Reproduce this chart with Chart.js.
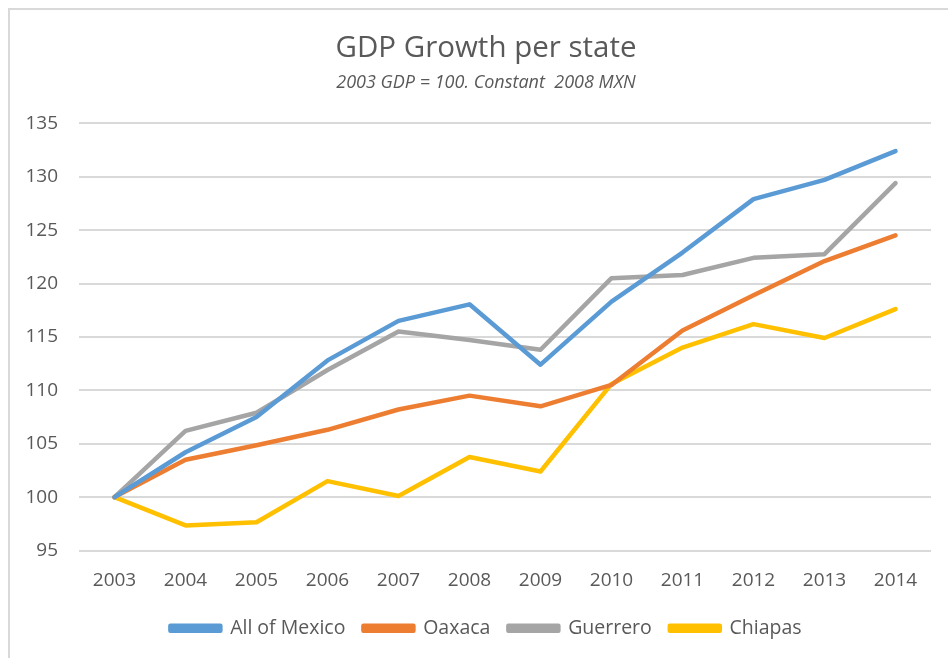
<!DOCTYPE html>
<html>
<head>
<meta charset="utf-8">
<script src="https://cdn.jsdelivr.net/npm/chart.js@4.4.0/dist/chart.umd.min.js"></script>
<style>
  body { margin: 0; background: #fff; overflow: hidden; }
  #frame {
    position: absolute; left: 8px; top: 8px; width: 960px; height: 680px;
    border: 2px solid #d9d9d9; box-sizing: border-box;
  }
  #wrap { position: absolute; left: 0; top: 0; width: 948px; height: 658px; }
</style>
</head>
<body>
<div id="frame"></div>
<div id="wrap"><canvas id="chart" width="948" height="658"></canvas></div>
<script>
  const years = ["2003", "2004", "2005", "2006", "2007", "2008", "2009", "2010", "2011", "2012", "2013", "2014"];
  const allMexico = [100, 104.2, 107.5, 112.8, 116.5, 118.05, 112.4, 118.3, 122.9, 127.9, 129.7, 132.4];
  const oaxaca = [100, 103.5, 104.85, 106.3, 108.2, 109.5, 108.5, 110.5, 115.6, 118.9, 122.1, 124.5];
  const guerrero = [100, 106.2, 107.9, 111.9, 115.5, 114.7, 113.8, 120.5, 120.8, 122.4, 122.75, 129.4];
  const chiapas = [100, 97.35, 97.65, 101.5, 100.1, 103.75, 102.4, 110.6, 114.0, 116.2, 114.9, 117.6];

  const font = "'Open Sans', 'DejaVu Sans', sans-serif";
  const textColor = "#595959";

  function series(label, data, color) {
    return {
      label: label,
      data: data,
      borderColor: color,
      backgroundColor: color,
      borderWidth: 4.5,
      borderCapStyle: "round",
      borderJoinStyle: "round",
      pointRadius: 0,
      pointHoverRadius: 0,
      tension: 0,
      fill: false
    };
  }

  // title, subtitle and legend are centred a bit right of the canvas centre in the original
  const shiftBlocks = {
    id: "shiftBlocks",
    afterLayout(chart) {
      chart.boxes.forEach(function (box) {
        if (!(box instanceof Chart.Scale)) box.left = 41;
      });
    }
  };

  const ctx = document.getElementById("chart").getContext("2d");
  window.myChart = new Chart(ctx, {
    type: "line",
    data: {
      labels: years,
      datasets: [
        series("All of Mexico", allMexico, "#5B9BD5"),
        series("Oaxaca", oaxaca, "#ED7D31"),
        series("Guerrero", guerrero, "#A5A5A5"),
        series("Chiapas", chiapas, "#FFC000")
      ]
    },
    plugins: [shiftBlocks],
    options: {
      responsive: false,
      animation: false,
      layout: {
        padding: { left: 0, right: 17, top: 14, bottom: 10 }
      },
      plugins: {
        title: {
          display: true,
          text: "GDP Growth per state",
          color: textColor,
          font: { family: font, size: 29.5, weight: "normal" },
          padding: { top: 17, bottom: 2 }
        },
        subtitle: {
          display: true,
          text: "2003 GDP = 100. Constant  2008 MXN",
          color: textColor,
          font: { family: font, size: 18, style: "italic" },
          padding: { top: 3.5, bottom: 29.8 }
        },
        legend: {
          position: "bottom",
          labels: {
            color: textColor,
            font: { family: font, size: 19.5 },
            boxWidth: 50,
            boxHeight: 5,
            padding: 18
          }
        },
        tooltip: { enabled: false }
      },
      scales: {
        x: {
          offset: true,
          grid: { display: false, drawTicks: false },
          border: { display: false },
          ticks: {
            color: textColor,
            font: { family: font, size: 19 },
            padding: 18.6,
            maxRotation: 0
          },
          afterFit: function (scale) { scale.height = 50; }
        },
        y: {
          min: 95,
          max: 135,
          grid: { color: "#d9d9d9", lineWidth: 2, drawTicks: false },
          border: { display: false },
          ticks: {
            stepSize: 5,
            color: textColor,
            font: { family: font, size: 19 },
            padding: 21
          },
          afterFit: function (scale) { scale.width = 79; }
        }
      }
    }
  });
</script>
</body>
</html>
